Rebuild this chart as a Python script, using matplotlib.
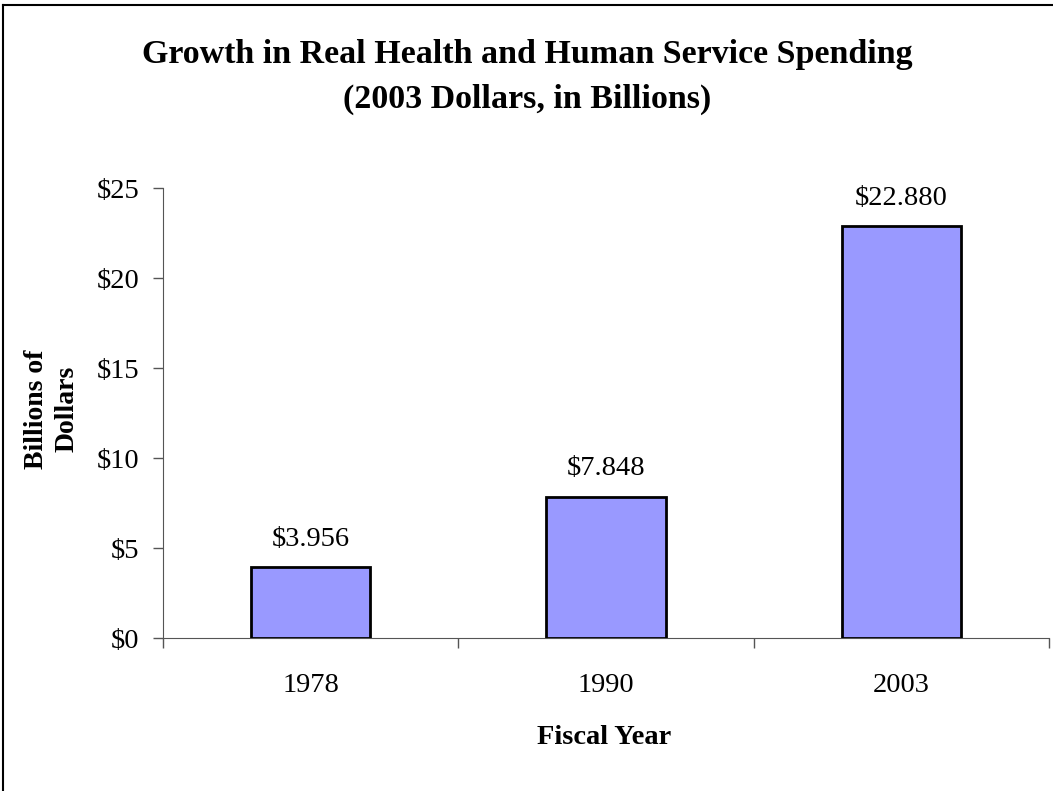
import matplotlib
matplotlib.use("Agg")
import matplotlib.pyplot as plt
from matplotlib.lines import Line2D

years = ["1978", "1990", "2003"]
values = [3.956, 7.848, 22.880]
value_labels = ["$3.956", "$7.848", "$22.880"]
yticks = [0, 5, 10, 15, 20, 25]
ytick_labels = ["$0", "$5", "$10", "$15", "$20", "$25"]

plt.rcParams['font.family'] = ['Liberation Serif', 'DejaVu Serif']

W, H = 1053, 791
fig = plt.figure(figsize=(W/100, H/100), dpi=100)
ax = fig.add_axes([163/W, 1-638/H, (1049-163)/W, (638-188)/H])

x = list(range(len(years)))
ax.bar(x, values, width=0.405, color="#9999FF", edgecolor="black", linewidth=2, zorder=3)
for xi, v, lab in zip(x, values, value_labels):
    ax.annotate(lab, (xi, v), xytext=(0, 11), textcoords="offset points",
                ha="center", va="bottom", fontsize=20.5)

ax.set_xlim(-0.5, len(years)-0.5)
ax.set_ylim(0, 25)
ax.set_yticks(yticks)
ax.set_yticklabels(ytick_labels, fontsize=20.5)
ax.set_xticks(x)
ax.set_xticklabels(years, fontsize=20.5)
ax.tick_params(axis='x', length=0, pad=25)
ax.tick_params(axis='y', length=7, width=1, direction='out', pad=10)
# category boundary ticks on x axis
ax.set_xticks([i-0.5 for i in range(len(years)+1)], minor=True)
ax.tick_params(axis='x', which='minor', length=7, width=1, direction='out')

for s in ['top', 'right']:
    ax.spines[s].set_visible(False)
ax.spines['left'].set_color('#555555')
ax.spines['bottom'].set_color('#555555')
ax.tick_params(axis='both', which='both', color='#555555', labelcolor='black')

fig.text(527/W, 1-55/H, "Growth in Real Health and Human Service Spending",
         ha="center", va="center", fontsize=24.5, fontweight="bold")
fig.text(527/W, 1-99/H, "(2003 Dollars, in Billions)",
         ha="center", va="center", fontsize=24.5, fontweight="bold")
fig.text(52/W, 1-409/H, "Billions of\nDollars", rotation=90, ha="center", va="center",
         fontsize=20, fontweight="bold", linespacing=1.3)
fig.text(604/W, 1-738/H, "Fiscal Year", ha="center", va="center",
         fontsize=20.5, fontweight="bold")

# figure border (left and top visible)
fig.add_artist(Line2D([3/W, 3/W], [0, 1-5/H], transform=fig.transFigure, color='black', lw=1.5))
fig.add_artist(Line2D([3/W, 1], [1-5/H, 1-5/H], transform=fig.transFigure, color='black', lw=1.5))

fig.savefig("out.png", dpi=100)
